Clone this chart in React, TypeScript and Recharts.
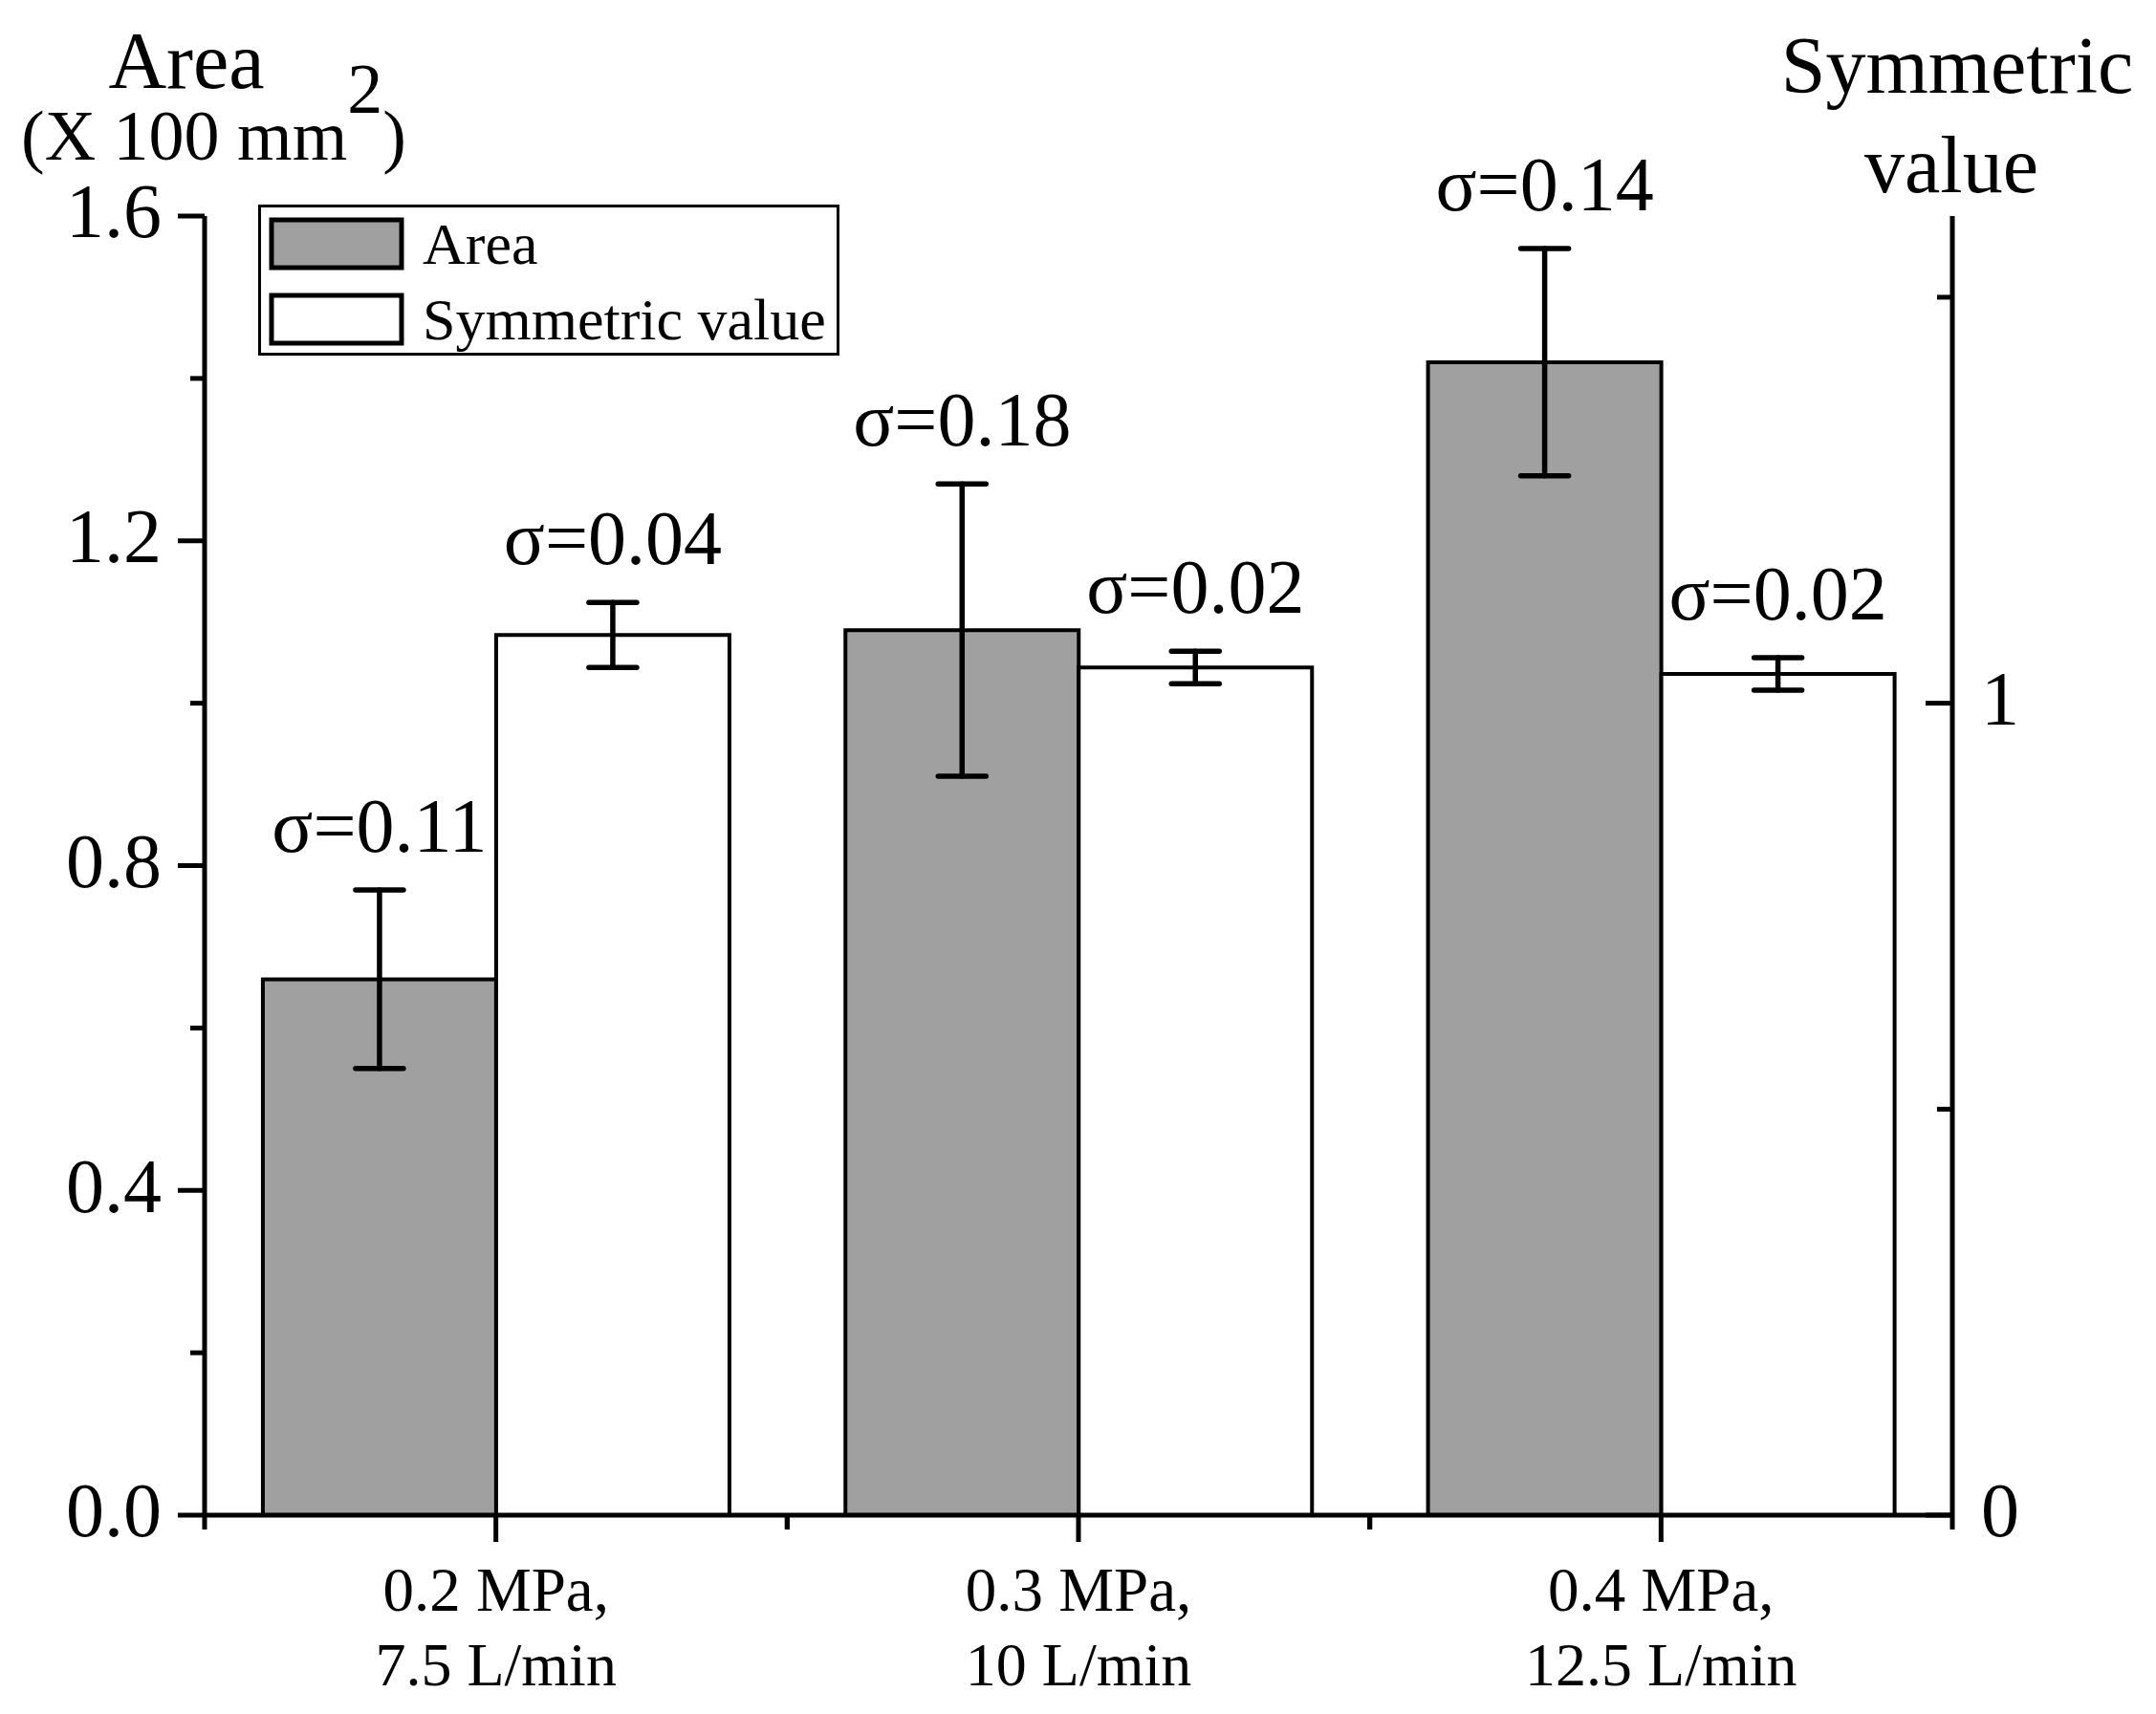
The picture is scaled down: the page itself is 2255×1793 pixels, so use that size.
import { Bar, BarChart, ErrorBar, LabelList, Legend, XAxis, YAxis } from 'recharts'

// categories (two-line tick labels)
const pressures = ['0.2 MPa,', '0.3 MPa,', '0.4 MPa,']
const flowRates = ['7.5 L/min', '10 L/min', '12.5 L/min']

// series
const areaValues = [0.66, 1.09, 1.42]
const areaSigma = [0.11, 0.18, 0.14]
const symmetricValues = [1.084, 1.044, 1.036]
const symmetricSigma = [0.04, 0.02, 0.02]

// axis ticks
const areaTicks = [0, 0.2, 0.4, 0.6, 0.8, 1.0, 1.2, 1.4, 1.6]
const symmetricTicks = [0, 0.5, 1, 1.5]

const W = 2255
const H = 1793
const PLOT_LEFT = 214
const PLOT_RIGHT = 2042
const PLOT_TOP = 226
const PLOT_BOTTOM = 1585
const AXIS_W = 150
const XAXIS_H = 150
const FONT = '"Liberation Serif", "Times New Roman", serif'
const AREA_FILL = '#a0a0a0'

const data = pressures.map((p, i) => ({
  condition: `${p}\n${flowRates[i]}`,
  area: areaValues[i],
  areaErr: areaSigma[i],
  symmetric: symmetricValues[i],
  symmetricErr: symmetricSigma[i],
}))

function LeftTick(props: any) {
  const { x, y, payload } = props
  const v = Number(payload.value)
  const major = Math.round(v * 10) % 4 === 0
  return (
    <g>
      <line x1={x} x2={x - (major ? 28 : 15)} y1={y} y2={y} stroke="#000" strokeWidth={5} />
      {major && (
        <text x={x - 45} y={y} dy="0.28em" textAnchor="end" fontSize={80} fontFamily={FONT} fill="#000">
          {v.toFixed(1)}
        </text>
      )}
    </g>
  )
}

function RightTick(props: any) {
  const { x, y, payload } = props
  const v = Number(payload.value)
  const major = Number.isInteger(v)
  return (
    <g>
      <line x1={x} x2={x - (major ? 28 : 16)} y1={y} y2={y} stroke="#000" strokeWidth={5} />
      {major && (
        <text x={x + 30} y={y} dy="0.28em" textAnchor="start" fontSize={80} fontFamily={FONT} fill="#000">
          {v}
        </text>
      )}
    </g>
  )
}

function CategoryTick(props: any) {
  const { x, y, payload } = props
  const [top, bottom] = String(payload.value).split('\n')
  const fallback = (PLOT_RIGHT - PLOT_LEFT) / pressures.length / 2
  const half = typeof payload.offset === 'number' && payload.offset > 10 ? payload.offset : fallback
  return (
    <g>
      <line x1={x} x2={x} y1={y} y2={y + 28} stroke="#000" strokeWidth={5} />
      <line x1={x - half} x2={x - half} y1={y} y2={y + 15} stroke="#000" strokeWidth={5} />
      <line x1={x + half} x2={x + half} y1={y} y2={y + 15} stroke="#000" strokeWidth={5} />
      <text x={x} y={y + 100} textAnchor="middle" fontSize={65} fontFamily={FONT} fill="#000">
        {top}
      </text>
      <text x={x} y={y + 178} textAnchor="middle" fontSize={64} fontFamily={FONT} fill="#000">
        {bottom}
      </text>
    </g>
  )
}

const sigmaLabel = (values: number[]) => (props: any) => {
  const { x, y, width, height, value, index } = props
  const perUnit = Math.abs(Number(height)) / values[index]
  const top = Number(y) - Number(value) * perUnit
  return (
    <text
      x={Number(x) + Number(width) / 2}
      y={top - 40}
      textAnchor="middle"
      fontSize={80}
      fontFamily={FONT}
      fill="#000"
    >
      {`σ=${Number(value).toFixed(2)}`}
    </text>
  )
}

function LeftTitle() {
  return (
    <g fontFamily={FONT} fill="#000">
      <text x={195} y={92} textAnchor="middle" fontSize={84}>
        Area
      </text>
      <text x={22} y={167} fontSize={74}>
        (X 100 mm<tspan dy={-49}>2</tspan>
        <tspan dy={49}>)</tspan>
      </text>
    </g>
  )
}

function RightTitle() {
  return (
    <g fontFamily={FONT} fill="#000" fontSize={84}>
      <text x={2047} y={97} textAnchor="middle">
        Symmetric
      </text>
      <text x={2041} y={201} textAnchor="middle">
        value
      </text>
    </g>
  )
}

function LegendBox(props: any) {
  const items = props.payload ?? []
  return (
    <svg width={608} height={158} style={{ display: 'block' }}>
      <rect x={1.5} y={1.5} width={605} height={155} fill="#fff" stroke="#000" strokeWidth={3} />
      {items.map((item: any, i: number) => (
        <g key={item.value}>
          <rect x={14} y={16 + i * 79} width={136} height={50} fill={item.color} stroke="#000" strokeWidth={5} />
          <text x={172} y={62 + i * 79} fontSize={62} fontFamily={FONT} fill="#000">
            {item.value}
          </text>
        </g>
      ))}
    </svg>
  )
}

export default function App() {
  return (
    <div style={{ position: 'absolute', left: 0, top: 0, width: W, height: H, background: '#fff' }}>
      <BarChart
        width={W}
        height={H}
        data={data}
        margin={{
          top: PLOT_TOP,
          left: PLOT_LEFT - AXIS_W,
          right: W - PLOT_RIGHT - AXIS_W,
          bottom: H - PLOT_BOTTOM - XAXIS_H,
        }}
        barCategoryGap="10%"
        barGap={0}
      >
        <XAxis
          dataKey="condition"
          height={XAXIS_H}
          interval={0}
          tickSize={0}
          tickMargin={0}
          tickLine={false}
          axisLine={{ stroke: '#000', strokeWidth: 5 }}
          tick={<CategoryTick />}
        />
        <YAxis
          yAxisId="left"
          width={AXIS_W}
          domain={[0, 1.6]}
          ticks={areaTicks}
          interval={0}
          allowDataOverflow
          tickSize={0}
          tickMargin={0}
          tickLine={false}
          axisLine={{ stroke: '#000', strokeWidth: 5 }}
          tick={<LeftTick />}
          label={{ content: LeftTitle }}
        />
        <YAxis
          yAxisId="right"
          orientation="right"
          width={AXIS_W}
          domain={[0, 1.6]}
          ticks={symmetricTicks}
          interval={0}
          allowDataOverflow
          tickSize={0}
          tickMargin={0}
          tickLine={false}
          axisLine={{ stroke: '#000', strokeWidth: 5 }}
          tick={<RightTick />}
          label={{ content: RightTitle }}
        />
        <Legend
          layout="vertical"
          align="center"
          verticalAlign="middle"
          wrapperStyle={{ position: 'absolute', left: 270, top: 214, width: 608, height: 158 }}
          content={<LegendBox />}
        />
        <Bar
          yAxisId="left"
          dataKey="area"
          name="Area"
          fill={AREA_FILL}
          stroke="#000"
          strokeWidth={4}
          isAnimationActive={false}
        >
          <ErrorBar
            dataKey="areaErr"
            width={25}
            stroke="#000"
            strokeWidth={5.5}
            strokeLinecap="round"
            direction="y"
            isAnimationActive={false}
          />
          <LabelList dataKey="areaErr" content={sigmaLabel(areaValues)} />
        </Bar>
        <Bar
          yAxisId="left"
          dataKey="symmetric"
          name="Symmetric value"
          fill="#fff"
          stroke="#000"
          strokeWidth={4}
          isAnimationActive={false}
        >
          <ErrorBar
            dataKey="symmetricErr"
            width={25}
            stroke="#000"
            strokeWidth={5.5}
            strokeLinecap="round"
            direction="y"
            isAnimationActive={false}
          />
          <LabelList dataKey="symmetricErr" content={sigmaLabel(symmetricValues)} />
        </Bar>
      </BarChart>
    </div>
  )
}
